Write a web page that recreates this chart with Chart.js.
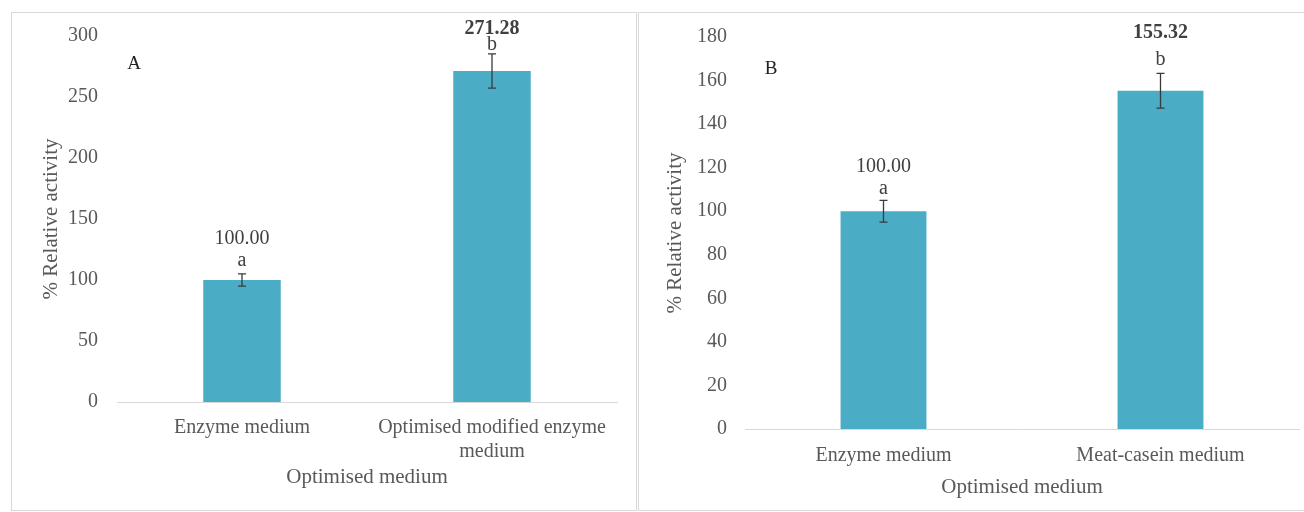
<!DOCTYPE html>
<html>
<head>
<meta charset="utf-8">
<script src="https://cdn.jsdelivr.net/npm/chart.js@4.4.0/dist/chart.umd.min.js"></script>
<style>
    html, body { margin: 0; padding: 0; background: #fff; overflow: hidden; }
    body { width: 1304px; height: 512px; position: relative; }
    .panel { position: absolute; top: 12px; height: 499px; border: 1px solid #d9d9d9; box-sizing: border-box; }
    .panel .wrap { position: absolute; left: 0; top: 0; right: 0; bottom: 0; }
    #panelA { left: 11px; width: 626px; }
    #panelB { left: 638px; width: 670px; }
</style>
</head>
<body>
<div class="panel" id="panelA"><div class="wrap"><canvas id="chartA"></canvas></div></div>
<div class="panel" id="panelB"><div class="wrap"><canvas id="chartB"></canvas></div></div>
<script>
// Panel A
const categoriesA = ['Enzyme medium', ['Optimised modified enzyme', 'medium']];
const valuesA = [100.00, 271.28];
const errorsA = [5, 14];
const lettersA = ['a', 'b'];
const yMaxA = 300;
const yStepA = 50;

// Panel B
const categoriesB = ['Enzyme medium', 'Meat-casein medium'];
const valuesB = [100.00, 155.32];
const errorsB = [5, 8];
const lettersB = ['a', 'b'];
const yMaxB = 180;
const yStepB = 20;

const SERIF = '"Liberation Serif", "Times New Roman", serif';
const BAR = '#4BACC6';
const GREY = '#595959';

// error bars, significance letters and value labels, drawn off the chart's own scales
function annotations(id, errors, letters, style) {
    return {
        id: id,
        afterDatasetsDraw(chart) {
            const ctx = chart.ctx;
            const y = chart.scales.y;
            const meta = chart.getDatasetMeta(0);
            const values = chart.data.datasets[0].data;
            ctx.save();
            values.forEach((v, i) => {
                const x = meta.data[i].x;
                const top = y.getPixelForValue(v + errors[i]);
                const bot = y.getPixelForValue(v - errors[i]);
                ctx.strokeStyle = '#3a3a3a';
                ctx.lineWidth = 1.3;
                ctx.beginPath();
                ctx.moveTo(x, top); ctx.lineTo(x, bot);
                ctx.moveTo(x - 4, top); ctx.lineTo(x + 4, top);
                ctx.moveTo(x - 4, bot); ctx.lineTo(x + 4, bot);
                ctx.stroke();

                ctx.textAlign = 'center';
                ctx.textBaseline = 'middle';
                ctx.fillStyle = '#404040';
                ctx.font = '20px ' + SERIF;
                ctx.fillText(letters[i], x, top + style.letterOffset[i]);
                ctx.font = (style.bold[i] ? 'bold ' : '') + '20px ' + SERIF;
                ctx.fillText(v.toFixed(2), x, top + style.valueOffset[i]);
            });
            // panel letter
            ctx.font = '19px ' + SERIF;
            ctx.fillStyle = '#222';
            ctx.textAlign = 'center';
            ctx.fillText(style.panel, chart.chartArea.left + style.panelX, chart.chartArea.top + style.panelY);
            ctx.restore();
        }
    };
}

function makeChart(canvasId, categories, values, yMax, yStep, geo, plugin) {
    return new Chart(document.getElementById(canvasId), {
        type: 'bar',
        data: {
            labels: categories,
            datasets: [{
                data: values,
                backgroundColor: BAR,
                borderWidth: 0,
                categoryPercentage: 1,
                barPercentage: 0.31
            }]
        },
        options: {
            responsive: true,
            maintainAspectRatio: false,
            animation: false,
            layout: { padding: { left: 0, top: geo.top, right: geo.right, bottom: 0 } },
            plugins: { legend: { display: false }, tooltip: { enabled: false } },
            scales: {
                x: {
                    grid: { display: false, drawTicks: false },
                    border: { display: true, color: '#d9d9d9', width: 1 },
                    ticks: { color: GREY, font: { family: SERIF, size: 20 }, padding: geo.xTickPad, maxRotation: 0, autoSkip: false },
                    title: { display: true, text: 'Optimised medium', color: GREY, font: { family: SERIF, size: 21 }, padding: { top: 0, bottom: geo.xTitlePad } },
                    afterFit: s => { s.height = geo.xHeight; }
                },
                y: {
                    min: 0,
                    max: yMax,
                    grid: { display: false, drawTicks: false },
                    border: { display: false },
                    ticks: { stepSize: yStep, color: GREY, font: { family: SERIF, size: 20 }, padding: geo.yTickPad },
                    title: { display: true, text: '% Relative activity', color: GREY, font: { family: SERIF, size: 21 }, padding: { top: geo.yTitlePad, bottom: 0 } },
                    afterFit: s => {
                        s.width = geo.yWidth;
                        // keep the wide label gap from pushing the plot top down
                        s.paddingTop = 10;
                        s.paddingBottom = 10;
                    }
                }
            }
        },
        plugins: [plugin]
    });
}

makeChart('chartA', categoriesA, valuesA, yMaxA, yStepA,
    { top: 23, right: 19, xHeight: 108, yWidth: 105, xTickPad: 14, xTitlePad: 20, yTickPad: 19, yTitlePad: 27 },
    annotations('annotA', errorsA, lettersA, { letterOffset: [-13, -9], valueOffset: [-35, -25], bold: [false, true], panel: 'A', panelX: 17, panelY: 28 }));

makeChart('chartB', categoriesB, valuesB, yMaxB, yStepB,
    { top: 24, right: 8, xHeight: 81, yWidth: 106, xTickPad: 15, xTitlePad: 10, yTickPad: 18, yTitlePad: 24 },
    annotations('annotB', errorsB, lettersB, { letterOffset: [-12, -14], valueOffset: [-34, -40], bold: [false, true], panel: 'B', panelX: 26, panelY: 32 }));
</script>
</body>
</html>
